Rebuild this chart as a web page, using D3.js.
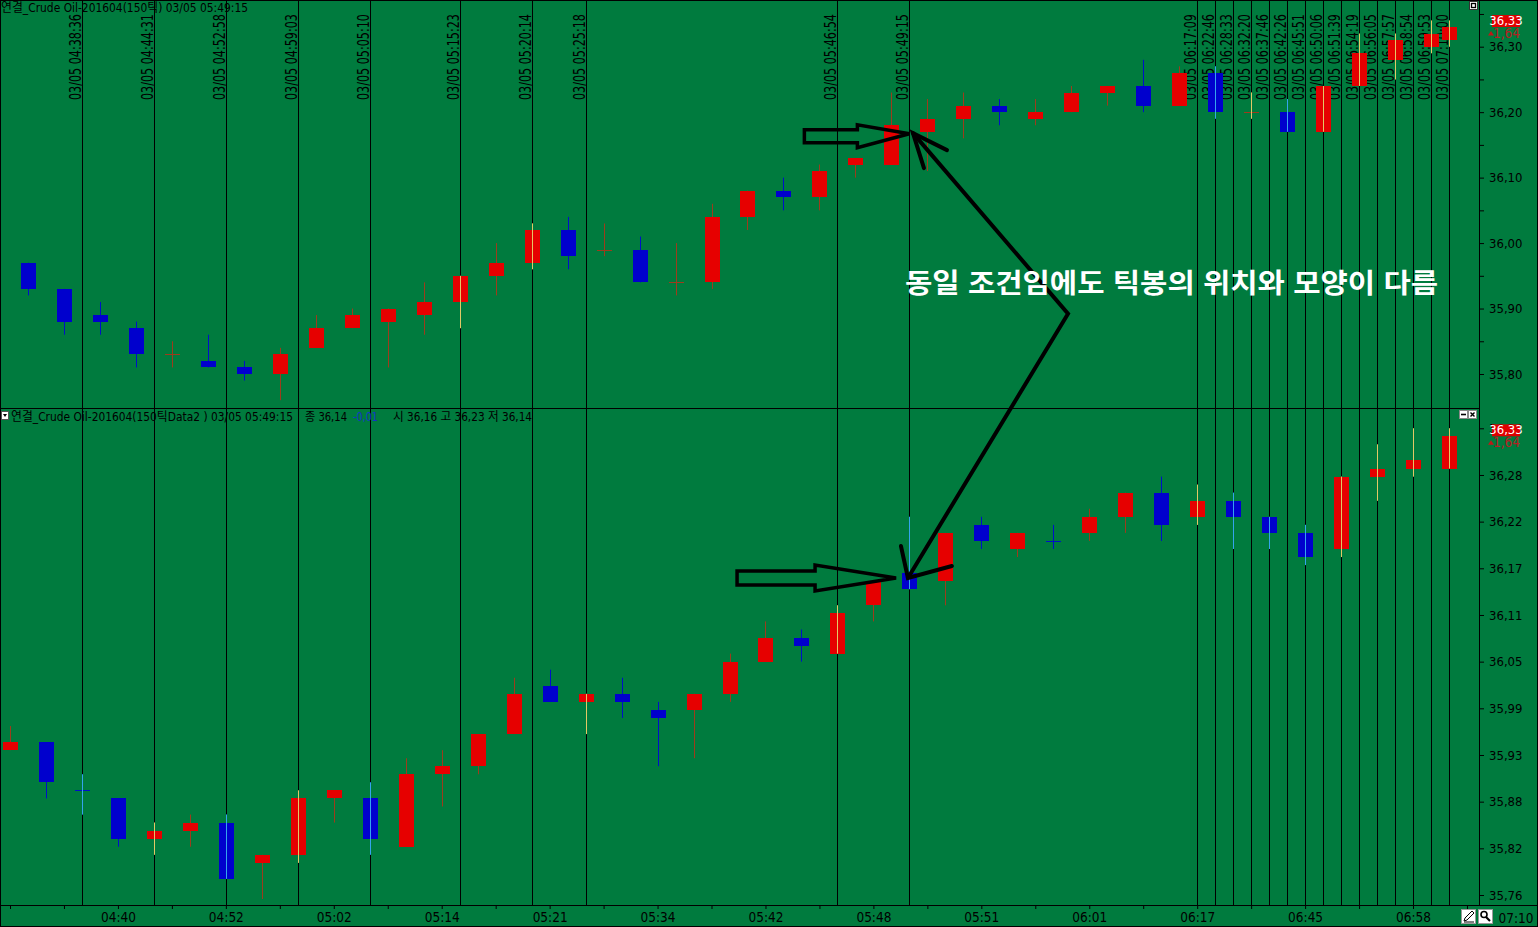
<!DOCTYPE html>
<html lang="ko">
<head>
<meta charset="utf-8">
<title>연결_Crude Oil-201604 150틱</title>
<script src="https://cdn.jsdelivr.net/npm/d3@7/dist/d3.min.js"></script>
<style>
  html, body { margin:0; padding:0; background:#007b3e; overflow:hidden; }
  svg { display:block; }
  .nar { font-family: "Liberation Sans Narrow", "Arial Narrow", "DejaVu Sans Condensed", "Noto Sans CJK KR", sans-serif; }
  .kr  { font-family: "Noto Sans CJK KR", "Noto Sans", sans-serif; }
</style>
</head>
<body>
<svg id="chart" width="1538" height="927"></svg>
<script>
// ================= DATA =================
// slot = position in bar units along the shared time axis
const topSlots = [0.5,1.5,2.5,3.5,4.5,5.5,6.5,7.5,8.5,9.5,10.5,11.5,12.5,13.5,14.5,15.5,16.5,17.5,18.5,19.5,
  20.5,21.5,22.5,23.5,24.5,25.5,26.5,27.5,28.5,29.5,30.5,31.5,32.5,33.5,34.5,35.5,36.5,37.5,38.5,39.5,40];
const topOpen  = [35.97,35.93,35.89,35.87,35.83,35.82,35.81,35.80,35.84,35.87,35.88,35.89,35.91,35.95,35.97,36.02,35.99,35.99,35.94,35.94,
  36.04,36.08,36.07,36.12,36.12,36.17,36.19,36.21,36.19,36.20,36.23,36.24,36.21,36.26,36.20,36.20,36.17,36.24,36.28,36.30,36.31];
const topHigh  = [35.97,35.93,35.91,35.88,35.85,35.86,35.82,35.84,35.89,35.90,35.90,35.94,35.95,36.00,36.03,36.04,36.03,36.01,36.00,36.06,
  36.08,36.10,36.12,36.13,36.23,36.22,36.23,36.22,36.22,36.24,36.24,36.28,36.27,36.27,36.23,36.22,36.24,36.32,36.32,36.34,36.34];
const topLow   = [35.92,35.86,35.86,35.81,35.81,35.81,35.79,35.76,35.84,35.87,35.81,35.86,35.87,35.92,35.96,35.96,35.98,35.94,35.92,35.93,
  36.02,36.05,36.05,36.10,36.12,36.11,36.16,36.18,36.18,36.20,36.21,36.20,36.21,36.19,36.19,36.17,36.17,36.24,36.25,36.29,36.30];
const topClose = [35.93,35.88,35.88,35.83,35.83,35.81,35.80,35.83,35.87,35.89,35.90,35.91,35.95,35.97,36.02,35.98,35.99,35.94,35.94,36.04,
  36.08,36.07,36.11,36.13,36.18,36.19,36.21,36.20,36.20,36.23,36.24,36.21,36.26,36.20,36.20,36.17,36.24,36.29,36.31,36.32,36.33];

const botSlots = [0,1,2,3,4,5,6,7,8,9,10,11,12,13,14,15,16,17,18,19,20,21,22,23,24,25,26,27,28,29,30,31,32,33,34,35,36,37,38,39,40];
const botOpen  = [35.94,35.95,35.89,35.88,35.83,35.84,35.85,35.80,35.81,35.88,35.88,35.82,35.91,35.92,35.96,36.02,36.00,36.01,35.99,35.99,
  36.01,36.05,36.08,36.06,36.12,36.16,36.15,36.22,36.19,36.20,36.21,36.23,36.26,36.23,36.25,36.23,36.21,36.19,36.28,36.29,36.29];
const botHigh  = [35.97,35.95,35.91,35.88,35.85,35.86,35.86,35.81,35.89,35.89,35.90,35.93,35.94,35.96,36.03,36.04,36.01,36.03,36.00,36.01,
  36.06,36.10,36.09,36.12,36.15,36.23,36.21,36.23,36.21,36.22,36.24,36.26,36.28,36.27,36.26,36.23,36.22,36.28,36.32,36.34,36.34];
const botLow   = [35.94,35.88,35.86,35.82,35.81,35.82,35.78,35.755,35.80,35.85,35.81,35.82,35.87,35.91,35.96,36.00,35.96,35.98,35.92,35.93,
  36.00,36.05,36.05,36.06,36.10,36.14,36.12,36.19,36.18,36.19,36.20,36.21,36.20,36.22,36.19,36.19,36.17,36.18,36.25,36.28,36.29];
const botClose = [35.95,35.90,35.89,35.83,35.84,35.85,35.78,35.81,35.88,35.89,35.83,35.91,35.92,35.96,36.01,36.00,36.01,36.00,35.98,36.01,
  36.05,36.08,36.07,36.11,36.15,36.14,36.21,36.20,36.21,36.20,36.23,36.26,36.22,36.25,36.23,36.21,36.18,36.28,36.29,36.30,36.33];

// vertical marker lines and their time stamps
const lineSlots  = [2,4,6,8,10,12.5,14.5,16,23,25,33,33.5,34,34.5,35,35.5,36,36.5,37,37.5,38,38.5,39,39.5,40];
const lineLabels = ["03/05 04:38:36","03/05 04:44:31","03/05 04:52:58","03/05 04:59:03","03/05 05:05:10","03/05 05:15:23",
  "03/05 05:20:14","03/05 05:25:18","03/05 05:46:54","03/05 05:49:15","03/05 06:17:09","03/05 06:22:46","03/05 06:28:33",
  "03/05 06:32:20","03/05 06:37:46","03/05 06:42:26","03/05 06:45:51","03/05 06:50:06","03/05 06:51:39","03/05 06:54:19",
  "03/05 06:56:05","03/05 06:57:57","03/05 06:58:54","03/05 06:59:53","03/05 07:10:00"];

// axes
const xTickSlots  = [0,1.5,3,4.5,6,7.5,9,10.5,12,13.5,15,16.5,18,19.5,21,22.5,24,25.5,27,28.5,30,31.5,33,34.5,36,37.5,39,40.5];
const xTickLabels = ["","","04:40","","04:52","","05:02","","05:14","","05:21","","05:34","","05:42","",
  "05:48","","05:51","","06:01","","06:17","","06:45","","06:58",""];
const topTickValues = [35.80,35.85,35.90,35.95,36.00,36.05,36.10,36.15,36.20,36.25,36.30,36.35];
const topTickLabels = ["35,80","","35,90","","36,00","","36,10","","36,20","","36,30",""];
const botTickValues = [35.76,35.818,35.876,35.934,35.992,36.05,36.108,36.166,36.224,36.282,36.34];
const botTickLabels = ["35,76","35,82","35,88","35,93","35,99","36,05","36,11","36,17","36,22","36,28","36,34"];

const lastPrice = "36,33", lastChange = "1,64", lastValue = 36.33;
const topTitle = "연결_Crude Oil-201604(150틱) 03/05 05:49:15";
const botTitle = "연결_Crude Oil-201604(150틱Data2 ) 03/05 05:49:15";
const botInfo = [["종 36,14", "#000"], ["-0,01", "#1434c8"], ["시 36,16 고 36,23 저 36,14", "#000"]];
const note = "동일 조건임에도 틱봉의 위치와 모양이 다름";

// ================= LAYOUT =================
const W = 1538, H = 927;
const PLOT_R = 1480, DIV_Y = 408, AXIS_Y = 906;
const GREEN = "#007b3e", RED = "#e60000", BLUE = "#0000cd", RED_WICK = "#9c3c1c", BLUE_WICK = "#0010c8";

const svg = d3.select("#chart");
const x = d3.scaleLinear().domain([0, 40]).range([10, 1449]);
const yTop = d3.scaleLinear().domain([35.80, 36.30]).range([374, 46.7]);
const yBot = d3.scaleLinear().domain([35.76, 36.34]).range([895, 428.3]);
const px = s => Math.round(x(s)) + 0.5;

svg.append("rect").attr("width", W).attr("height", H).attr("fill", GREEN);

// ---- vertical marker lines ----
svg.append("g").selectAll("line").data(lineSlots).join("line")
  .attr("x1", px).attr("x2", px).attr("y1", 0).attr("y2", AXIS_Y)
  .attr("stroke", "#000").attr("stroke-width", 1);

// ---- header texts ----
svg.append("text").attr("class", "nar").attr("x", 1).attr("y", 12).attr("font-size", 12.5)
  .attr("textLength", 247).attr("lengthAdjust", "spacingAndGlyphs").text(topTitle);

svg.append("rect").attr("x", 1.5).attr("y", 411.5).attr("width", 7).attr("height", 8).attr("fill", "#fff").attr("stroke", "#555");
svg.append("path").attr("d", "M3,414 L7,414 L5,417 Z").attr("fill", "#000");
svg.append("text").attr("class", "nar").attr("x", 11).attr("y", 421).attr("font-size", 12.5)
  .attr("textLength", 282).attr("lengthAdjust", "spacingAndGlyphs").text(botTitle);
const infoX = [305, 353, 393], infoW = [42, 25, 139];
botInfo.forEach((t, i) => {
  svg.append("text").attr("class", "nar").attr("x", infoX[i]).attr("y", 421).attr("font-size", 12.5)
    .attr("textLength", infoW[i]).attr("lengthAdjust", "spacingAndGlyphs").attr("fill", t[1]).text(t[0]);
});

// ---- vertical time labels (fitted to 86px by a horizontal scale) ----
const LABEL_LEN = 86;
svg.append("g").selectAll("text").data(lineSlots).join("text")
  .attr("class", "nar").attr("font-size", 15.5)
  .text((s, i) => lineLabels[i])
  .each(function (s) {
    const len = this.getComputedTextLength() || LABEL_LEN;
    const k = Math.min(1, LABEL_LEN / len);
    d3.select(this).attr("transform", `translate(${Math.round(x(s)) - 1},100) rotate(-90) scale(${k},1)`);
  });

// ---- candles ----
function candles(slots, O, Hh, L, C, y) {
  const rows = slots.map((s, i) => ({ s, o: O[i], h: Hh[i], l: L[i], c: C[i], pc: i > 0 ? C[i - 1] : O[i] }));
  rows.forEach(d => d.up = d.c > d.o ? true : d.c < d.o ? false : d.c >= d.pc);
  const g = svg.append("g").selectAll("g").data(rows).join("g");
  g.append("line").attr("x1", d => px(d.s)).attr("x2", d => px(d.s))
    .attr("y1", d => y(d.h)).attr("y2", d => y(d.l))
    .attr("stroke", d => d.up ? RED_WICK : BLUE_WICK).attr("stroke-width", 1);
  g.filter(d => d.o !== d.c).append("rect")
    .attr("x", d => Math.round(x(d.s)) - 7).attr("width", 15)
    .attr("y", d => Math.round(y(Math.max(d.o, d.c))))
    .attr("height", d => Math.max(1, Math.round(y(Math.min(d.o, d.c))) - Math.round(y(Math.max(d.o, d.c)))))
    .attr("fill", d => d.up ? RED : BLUE);
  g.filter(d => d.o === d.c).append("line")
    .attr("x1", d => Math.round(x(d.s)) - 7).attr("x2", d => Math.round(x(d.s)) + 8)
    .attr("y1", d => Math.round(y(d.o)) + 0.5).attr("y2", d => Math.round(y(d.o)) + 0.5)
    .attr("stroke", d => d.up ? RED_WICK : BLUE_WICK).attr("stroke-width", 1);
  return rows;
}
const topRows = candles(topSlots, topOpen, topHigh, topLow, topClose, yTop);
const botRows = candles(botSlots, botOpen, botHigh, botLow, botClose, yBot);

// marker lines crossing a candle show in an inverted tint
function overlay(rows, y) {
  const hits = rows.filter(d => lineSlots.some(s => Math.abs(s - d.s) < 1e-6));
  svg.append("g").selectAll("line").data(hits).join("line")
    .attr("x1", d => px(d.s)).attr("x2", d => px(d.s))
    .attr("y1", d => y(d.h)).attr("y2", d => y(d.l))
    .attr("stroke", d => d.up ? "#e2c866" : "#34a4ec").attr("stroke-width", 1);
}
overlay(topRows, yTop);
overlay(botRows, yBot);

// ---- frame lines ----
const frame = svg.append("g").attr("stroke", "#000").attr("stroke-width", 1);
frame.append("line").attr("x1", 0).attr("x2", PLOT_R).attr("y1", DIV_Y + 0.5).attr("y2", DIV_Y + 0.5);
frame.append("line").attr("x1", PLOT_R - 0.5).attr("x2", PLOT_R - 0.5).attr("y1", 0).attr("y2", AXIS_Y);
frame.append("line").attr("x1", 0).attr("x2", W).attr("y1", AXIS_Y - 0.5).attr("y2", AXIS_Y - 0.5);
frame.append("rect").attr("x", 0.5).attr("y", 0.5).attr("width", W - 1).attr("height", H - 1).attr("fill", "none");

// ---- axes ----
function styleAxis(g, size) {
  g.select(".domain").remove();
  g.selectAll("line").attr("stroke", "#000");
  g.selectAll("text").attr("fill", "#000").attr("class", "nar").attr("font-size", size);
  g.attr("font-family", null).attr("font-size", null);
}
svg.append("g").attr("transform", `translate(${PLOT_R},0)`)
  .call(d3.axisRight(yTop).tickValues(topTickValues).tickFormat((d, i) => topTickLabels[i]).tickSize(4).tickPadding(5))
  .call(g => styleAxis(g, 13));
svg.append("g").attr("transform", `translate(${PLOT_R},0)`)
  .call(d3.axisRight(yBot).tickValues(botTickValues).tickFormat((d, i) => botTickLabels[i]).tickSize(4).tickPadding(5))
  .call(g => styleAxis(g, 13));
svg.append("g").attr("transform", `translate(0,${AXIS_Y - 1})`)
  .call(d3.axisBottom(x).tickValues(xTickSlots).tickFormat((d, i) => xTickLabels[i]).tickSize(4).tickPadding(3))
  .call(g => styleAxis(g, 13.5));
svg.append("text").attr("class", "nar").attr("x", 1516).attr("y", 923).attr("font-size", 13.5)
  .attr("text-anchor", "middle").text("07:10");

// ---- last price tags ----
function priceTag(y) {
  const yb = y(lastValue);
  svg.append("rect").attr("x", 1492).attr("y", yb - 12).attr("width", 28).attr("height", 12).attr("fill", "#e00000");
  svg.append("text").attr("class", "nar").attr("x", 1506).attr("y", yb - 2).attr("font-size", 13)
    .attr("text-anchor", "middle").attr("fill", "#fff").text(lastPrice);
  svg.append("path").attr("d", `M1488,${yb + 8.5} L1494,${yb + 8.5} L1491,${yb + 4} Z`).attr("fill", "#c01818");
  svg.append("text").attr("class", "nar").attr("x", 1520).attr("y", yb + 11).attr("font-size", 13.5)
    .attr("text-anchor", "end").attr("fill", "#b22222").text(lastChange);
}
priceTag(yTop);
priceTag(yBot);

// ---- small window icons ----
svg.append("rect").attr("x", 1469.5).attr("y", 1.5).attr("width", 8).attr("height", 8).attr("fill", "#fff").attr("stroke", "#333");
svg.append("rect").attr("x", 1471.5).attr("y", 3.5).attr("width", 4).attr("height", 4).attr("fill", "none").attr("stroke", "#000").attr("stroke-width", 1.3);
svg.append("rect").attr("x", 1459.5).attr("y", 410.5).attr("width", 8).attr("height", 8).attr("fill", "#fff").attr("stroke", "#888");
svg.append("line").attr("x1", 1461).attr("x2", 1466).attr("y1", 414.5).attr("y2", 414.5).attr("stroke", "#000").attr("stroke-width", 1.6);
svg.append("rect").attr("x", 1468.5).attr("y", 410.5).attr("width", 8).attr("height", 8).attr("fill", "#fff").attr("stroke", "#888");
svg.append("path").attr("d", "M1470.5,412.5 L1474.5,416.5 M1474.5,412.5 L1470.5,416.5").attr("stroke", "#000").attr("stroke-width", 1.4);
// pencil & magnifier
svg.append("rect").attr("x", 1461.5).attr("y", 909.5).attr("width", 14).attr("height", 14).attr("fill", "#fff").attr("stroke", "#999");
svg.append("path").attr("d", "M1464,921 L1465,918 L1472,911 L1474,913 L1467,920 Z M1464,922 L1474,922")
  .attr("fill", "none").attr("stroke", "#000").attr("stroke-width", 1);
svg.append("rect").attr("x", 1478.5).attr("y", 909.5).attr("width", 14).attr("height", 14).attr("fill", "#fff").attr("stroke", "#999");
svg.append("circle").attr("cx", 1484).attr("cy", 914.5).attr("r", 3).attr("fill", "none").attr("stroke", "#000").attr("stroke-width", 1.6);
svg.append("line").attr("x1", 1486).attr("y1", 917).attr("x2", 1490).attr("y2", 921).attr("stroke", "#000").attr("stroke-width", 2.2);

// ================= ANNOTATION =================
const ann = svg.append("g").attr("fill", "none").attr("stroke", "#000").attr("stroke-linejoin", "miter");
// hollow arrows
const hT = [x(25), yTop(36.167)];
ann.append("path").attr("stroke-width", 3.5)
  .attr("d", `M${hT[0]-105},${hT[1]-4} L${hT[0]-52},${hT[1]-4} L${hT[0]-52},${hT[1]-9} L${hT[0]},${hT[1]} L${hT[0]-52},${hT[1]+14} L${hT[0]-52},${hT[1]+9} L${hT[0]-105},${hT[1]+9} Z`);
const hB = [x(24.63), yBot(36.154)];
ann.append("path").attr("stroke-width", 3.5)
  .attr("d", `M${hB[0]-159},${hB[1]-7} L${hB[0]-81},${hB[1]-7} L${hB[0]-81},${hB[1]-13} L${hB[0]},${hB[1]} L${hB[0]-81},${hB[1]+13} L${hB[0]-81},${hB[1]+7} L${hB[0]-159},${hB[1]+7} Z`);
// double-headed bent arrow
const tipT = [x(25.1), yTop(36.168)];
const pivot = [x(29.41), yTop(35.892)];
const tipB = [x(24.96), yBot(36.154)];
ann.append("path").attr("stroke-width", 4).attr("stroke-linecap", "round")
  .attr("d", `M${tipT[0]},${tipT[1]} L${pivot[0]},${pivot[1]} L${tipB[0]},${tipB[1]}`);
ann.append("path").attr("stroke-width", 4).attr("stroke-linecap", "round")
  .attr("d", `M${tipT[0]+34},${tipT[1]+17} L${tipT[0]},${tipT[1]} L${tipT[0]+11},${tipT[1]+35}`);
ann.append("path").attr("stroke-width", 4).attr("stroke-linecap", "round")
  .attr("d", `M${tipB[0]-7},${tipB[1]-32} L${tipB[0]},${tipB[1]} L${tipB[0]+44},${tipB[1]-12}`);

svg.append("text").attr("class", "kr").attr("x", x(24.88)).attr("y", yTop(35.923))
  .attr("font-size", 27).attr("font-weight", "bold").attr("fill", "#fff")
  .attr("textLength", 533).attr("lengthAdjust", "spacingAndGlyphs").text(note);
</script>
</body>
</html>
